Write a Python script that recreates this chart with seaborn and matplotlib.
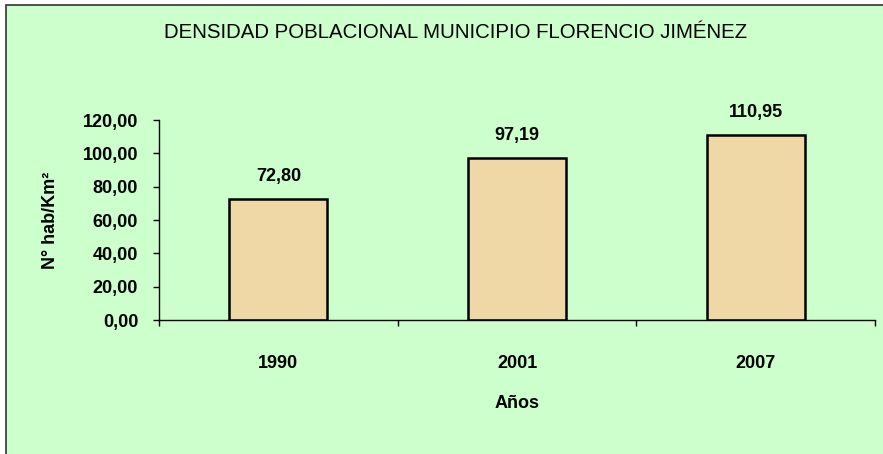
import matplotlib
matplotlib.use("Agg")
import matplotlib.pyplot as plt
import matplotlib.ticker as mticker
from matplotlib.patches import Rectangle
import pandas as pd
import seaborn as sns

years = ["1990", "2001", "2007"]
density = [72.80, 97.19, 110.95]

TITLE = "DENSIDAD POBLACIONAL MUNICIPIO FLORENCIO JIMÉNEZ"
BG = "#CCFFCC"
BAR = "#EFD8A6"

sns.set_style("white")
plt.rcParams["font.family"] = ["Liberation Sans", "DejaVu Sans"]
plt.rcParams["text.color"] = "black"
plt.rcParams["xtick.color"] = "black"
plt.rcParams["ytick.color"] = "black"
plt.rcParams["axes.labelcolor"] = "black"


def comma(v, _pos=None):
    return f"{v:.2f}".replace(".", ",")


def main() -> None:
    df = pd.DataFrame({"year": years, "density": density})

    fig = plt.figure(figsize=(8.83, 4.54), dpi=100)
    fig.patch.set_facecolor("white")
    fig.patches.append(Rectangle((6 / 883, -0.02), 2, 1.0 - 5 / 454 + 0.02,
                                 transform=fig.transFigure, facecolor=BG,
                                 edgecolor="#333333", linewidth=1.2, zorder=-5))

    ax = fig.add_axes([159 / 883, 1 - 320 / 454, (875 - 159) / 883, 200 / 454])
    ax.set_facecolor("none")

    sns.barplot(data=df, x="year", y="density", color=BAR, width=0.41,
                edgecolor="black", linewidth=1.8, saturation=1, ax=ax)

    ax.set_ylim(0, 120)
    ax.set_xlim(-0.5, 2.5)
    ax.yaxis.set_major_locator(mticker.MultipleLocator(20))
    ax.yaxis.set_major_formatter(mticker.FuncFormatter(comma))
    ax.xaxis.set_minor_locator(mticker.FixedLocator([-0.5, 0.5, 1.5, 2.5]))
    ax.tick_params(axis="x", which="major", bottom=True, length=0, pad=25,
                   labelsize=13)
    ax.tick_params(axis="x", which="minor", bottom=True, length=4, width=1,
                   color="black", direction="out")
    ax.tick_params(axis="y", left=True, length=4, width=1, color="black",
                   direction="out", labelsize=13, pad=11)
    for lbl in ax.get_xticklabels() + ax.get_yticklabels():
        lbl.set_fontweight("bold")

    for side in ["top", "right"]:
        ax.spines[side].set_visible(False)
    for side in ["left", "bottom"]:
        ax.spines[side].set_color("black")
        ax.spines[side].set_linewidth(1)

    for patch, v in zip(ax.patches, density):
        ax.annotate(comma(v), (patch.get_x() + patch.get_width() / 2, v),
                    xytext=(0, 10), textcoords="offset points", ha="center",
                    va="bottom", fontsize=13, fontweight="bold")

    ax.set_xlabel("Años", fontsize=13, fontweight="bold", labelpad=17)
    ax.set_ylabel("N° hab/Km²", fontsize=13, fontweight="bold", labelpad=17)

    fig.text(456 / 883, 1 - 33 / 454, TITLE, ha="center", va="center",
             fontsize=14.7)

    fig.savefig("out.png", dpi=100)
    plt.close(fig)


if __name__ == "__main__":
    main()
